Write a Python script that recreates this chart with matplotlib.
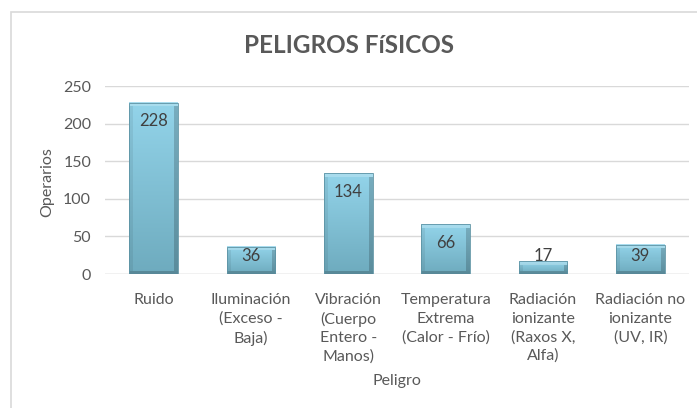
import matplotlib

matplotlib.use("Agg")

import matplotlib.pyplot as plt
import numpy as np
from matplotlib.patches import Rectangle

# data
categories = [
    "Ruido",
    "Iluminación\n(Exceso -\nBaja)",
    "Vibración\n(Cuerpo\nEntero -\nManos)",
    "Temperatura\nExtrema\n(Calor - Frío)",
    "Radiación\nionizante\n(Raxos X,\nAlfa)",
    "Radiación no\nionizante\n(UV, IR)",
]
operarios = [228, 36, 134, 66, 17, 39]
y_ticks = [0, 50, 100, 150, 200, 250]

title = "PELIGROS FíSICOS"
x_label = "Peligro"
y_label = "Operarios"

FONT = ["Lato", "DejaVu Sans"]
TEXT = "#595959"
GRID = "#d9d9d9"
TOP_COL = np.array([0x93, 0xd4, 0xea]) / 255
BOT_COL = np.array([0x6e, 0xab, 0xbe]) / 255


def bar_image(h_px, w_px, bevel=4):
    """RGB array for one bevelled, gradient-filled bar."""
    h_px = max(int(round(h_px)), 2)
    w_px = max(int(round(w_px)), 2)
    t = np.linspace(0, 1, h_px)[:, None, None]
    img = TOP_COL * (1 - t) + BOT_COL * t
    img = np.repeat(img, w_px, axis=1)
    yy, xx = np.mgrid[0:h_px, 0:w_px]
    b = min(bevel, h_px // 3)
    top = yy < b
    bottom = yy >= h_px - max(b - 1, 1)
    left = (xx < bevel) & ~top & ~bottom
    right = (xx >= w_px - bevel) & ~top & ~bottom
    img[top] = img[top] * 0.8 + 0.2
    img[left] = img[left] * 0.93
    img[right] = img[right] * 0.82
    img[bottom] = img[bottom] * 0.8
    return np.clip(img, 0, 1)


fig = plt.figure(figsize=(6.97, 4.08), dpi=100)
ax = fig.add_axes([0.1506, 0.3284, 0.8379, 0.4608])

# chart frame
fig.patches.append(Rectangle((11 / 697, -0.01), 1.0, 1 - 12 / 408 + 0.01,
                             transform=fig.transFigure, fill=False,
                             edgecolor="#d9d9d9", linewidth=1.2))

ax.set_ylim(0, 250)
ax.set_yticks(y_ticks)
ax.yaxis.grid(True, color=GRID, linewidth=1.0)
ax.set_axisbelow(True)
for s in ax.spines.values():
    s.set_visible(False)

bw = 0.5
px_x = 584 / len(categories)
px_y = 188 / 250
for i, v in enumerate(operarios):
    img = bar_image(v * px_y, bw * px_x)
    ax.imshow(img, extent=(i - bw / 2, i + bw / 2, 0, v), aspect="auto",
              origin="upper", interpolation="nearest", zorder=2)
    ax.add_patch(Rectangle((i - bw / 2, 0), bw, v, fill=False,
                           edgecolor="#5d93a4", linewidth=0.6, zorder=3))
    # Excel "inside end" label, kept clear of the baseline on short bars
    ax.text(i, max(v - 25, 24), str(v), ha="center", va="center",
            fontsize=12, color="#404040", family=FONT, zorder=4)

ax.set_xlim(-0.5, len(categories) - 0.5)
ax.set_ylim(0, 250)
ax.set_xticks(range(len(categories)))
ax.set_xticklabels(categories, fontsize=11.5, color=TEXT, family=FONT,
                   linespacing=1.38, va="top")
for lab in ax.get_yticklabels():
    lab.set_fontsize(11.5)
    lab.set_color(TEXT)
    lab.set_family(FONT)
ax.tick_params(axis="both", length=0)
ax.tick_params(axis="y", pad=10)
ax.tick_params(axis="x", pad=14)
ax.axhline(0, color=GRID, linewidth=1.0, zorder=1)

ax.set_xlabel(x_label, fontsize=11.5, color=TEXT, family=FONT, va="center")
ax.xaxis.set_label_coords(0.5, -0.569)
ax.set_ylabel(y_label, fontsize=11.5, color=TEXT, family=FONT, va="center")
ax.yaxis.set_label_coords(-0.099, 0.49)
fig.text(0.5, 0.888, title, ha="center", va="center", fontsize=17.5,
         fontweight="bold", color=TEXT, family=FONT)

fig.savefig("out.png", dpi=100)
